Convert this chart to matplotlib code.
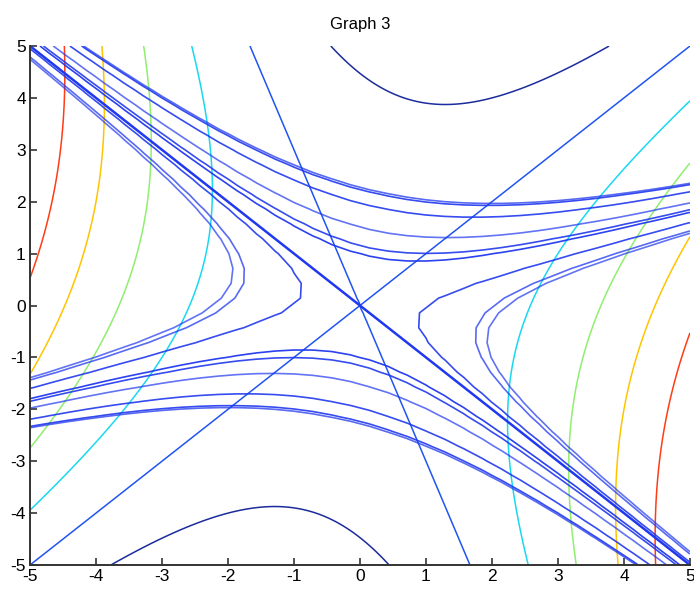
import numpy as np
import matplotlib
matplotlib.use("Agg")
import matplotlib.pyplot as plt

plt.rcParams['axes.unicode_minus'] = False
plt.rcParams['contour.negative_linestyle'] = 'solid'

# outer field g = a*x^2 + b*x*y + c*y^2
g_coef = [3.0, -2.0, -1.0]
g_levels = [-20, 0, 20, 40, 60, 80]
g_colors = ['#1c2c9c', '#2055f0', '#1ad8f0', '#90ee70', '#ffc400', '#ff3c14']

# hyperbola family h = (x + y) * (y - m*x)
h_slope = 0.33
h_levels = [-1.64, -1.35, -0.34, 1.0, 1.35, 2.3, 3.9, 5.0, 5.2]
h_alpha = [0.7, 0.75, 0.9, 0.95, 0.9, 0.7, 0.9, 0.9, 0.75]

ticks = [-5, -4, -3, -2, -1, 0, 1, 2, 3, 4, 5]

fig = plt.figure(figsize=(6.94, 5.89), dpi=100)
ax = fig.add_axes([0.0432, 0.0407, 0.9510, 0.8812])

# fine grid for the coloured field
xf = np.linspace(-5, 5, 201)
Xf, Yf = np.meshgrid(xf, xf)
G = g_coef[0] * Xf**2 + g_coef[1] * Xf * Yf + g_coef[2] * Yf**2
ax.contour(Xf, Yf, G, levels=g_levels, colors=g_colors, linewidths=1.1,
           linestyles='solid')

# coarser grid for the blue family (polyline look)
xc = np.linspace(-5, 5, 36)
Xc, Yc = np.meshgrid(xc, xc)
H = (Xc + Yc) * (Yc - h_slope * Xc)
for lev, a in zip(h_levels, h_alpha):
    ax.contour(Xc, Yc, H, levels=[lev], colors='#2038ee', linewidths=1.2,
               alpha=a, linestyles='solid')
ax.contour(Xc, Yc, Xc + Yc, levels=[0], colors='#2038ee', linewidths=1.8,
           linestyles='solid')

ax.set_xlim(-5, 5)
ax.set_ylim(-5, 5)
ax.set_xticks(ticks)
ax.set_yticks(ticks)
ax.spines['top'].set_visible(False)
ax.spines['right'].set_visible(False)
for s in ['left', 'bottom']:
    ax.spines[s].set_linewidth(1.4)
    ax.spines[s].set_color('#333333')
ax.tick_params(direction='in', length=5, width=1.2, labelsize=12.5, pad=3,
               colors='#333333', labelcolor='black')
for lab in ax.get_xticklabels() + ax.get_yticklabels():
    lab.set_fontfamily('Liberation Sans')
ax.set_title('Graph 3', fontsize=12, family='Liberation Sans', pad=12)

fig.savefig('out.png', dpi=100)
